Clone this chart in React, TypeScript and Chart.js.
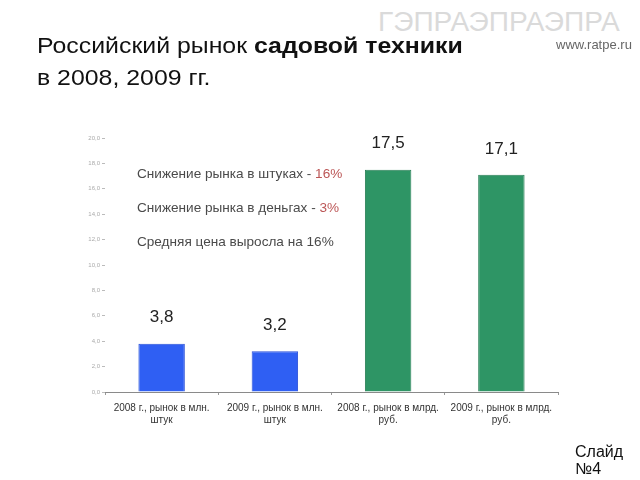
import React, { useEffect, useRef } from "react";
import { Chart, registerables } from "chart.js";

Chart.register(...registerables);

const categories: string[][] = [
  ["2008 г., рынок в млн.", "штук"],
  ["2009 г., рынок в млн.", "штук"],
  ["2008 г., рынок в млрд.", "руб."],
  ["2009 г., рынок в млрд.", "руб."],
];
const values = [3.8, 3.2, 17.5, 17.1];
const valueLabels = ["3,8", "3,2", "17,5", "17,1"];
const barColors = ["#2F5FF3", "#2F5FF3", "#2E9565", "#2E9565"];
const barBorders = ["#2A50D8", "#2A50D8", "#2A7F57", "#2A7F57"];
const yMax = 20;
const yStep = 2;

const valueLabelPlugin = {
  id: "valueLabels",
  afterDatasetsDraw(chart: any) {
    const { ctx } = chart;
    const meta = chart.getDatasetMeta(0);
    ctx.save();
    ctx.font = '17px "Liberation Sans", Arial, sans-serif';
    ctx.fillStyle = "#222";
    ctx.textAlign = "center";
    ctx.textBaseline = "middle";
    meta.data.forEach((bar: any, i: number) => {
      ctx.fillText(valueLabels[i], bar.x, bar.y - 26);
    });
    ctx.restore();
  },
};

export default function App() {
  const ref = useRef<HTMLCanvasElement>(null);
  useEffect(() => {
    if (!ref.current) return;
    const chart = new Chart(ref.current, {
      type: "bar",
      data: {
        labels: categories,
        datasets: [
          {
            data: values,
            backgroundColor: barColors,
            borderColor: barBorders,
            borderWidth: 1,
            categoryPercentage: 0.82,
            barPercentage: 0.5,
          },
        ],
      },
      options: {
        animation: false,
        responsive: false,
        maintainAspectRatio: false,
        layout: { padding: { left: 0, right: 82, top: 138, bottom: 0 } },
        plugins: { legend: { display: false }, tooltip: { enabled: false } },
        scales: {
          x: {
            afterFit: (s: any) => {
              s.height = 88;
            },
            grid: {
              drawOnChartArea: false,
              drawTicks: true,
              tickLength: 3,
              color: "#999",
              offset: true,
            },
            border: { display: true, color: "#8a8a8a", width: 1 },
            ticks: {
              color: "#333",
              font: { size: 10, family: '"Liberation Sans", Arial, sans-serif' },
              padding: 7,
              maxRotation: 0,
              autoSkip: false,
            },
          },
          y: {
            min: 0,
            max: yMax,
            afterFit: (s: any) => {
              s.width = 105;
            },
            grid: {
              drawOnChartArea: false,
              drawTicks: true,
              tickLength: 3,
              color: "#bbb",
            },
            border: { display: false },
            ticks: {
              stepSize: yStep,
              color: "#aaa",
              padding: 2,
              font: { size: 6, family: '"Liberation Sans", Arial, sans-serif' },
              callback: (v: any) => Number(v).toFixed(1).replace(".", ","),
            },
          },
        },
      },
      plugins: [valueLabelPlugin],
    });
    return () => chart.destroy();
  }, []);

  const sans = '"Liberation Sans", Arial, sans-serif';
  return (
    <div
      style={{
        position: "fixed",
        left: 0,
        top: 0,
        width: 640,
        height: 480,
        background: "#fff",
        fontFamily: sans,
        overflow: "hidden",
      }}
    >
      <div
        style={{
          position: "absolute",
          left: 378,
          top: 7,
          fontSize: 27,
          color: "#dadada",
          whiteSpace: "nowrap",
          transformOrigin: "0 0",
          transform: "scaleX(1.04)",
        }}
      >
        ГЭПРАЭПРАЭПРА
      </div>
      <canvas
        ref={ref}
        width={640}
        height={480}
        style={{ position: "absolute", left: 0, top: 0 }}
      />
      <div
        style={{
          position: "absolute",
          left: 37,
          top: 30,
          fontSize: 22,
          lineHeight: "32px",
          color: "#111",
          whiteSpace: "nowrap",
          transformOrigin: "0 0",
          transform: "scaleX(1.13)",
        }}
      >
        Российский рынок <b>садовой техники</b>
        <br />в 2008, 2009 гг.
      </div>
      <div
        style={{
          position: "absolute",
          left: 556,
          top: 37,
          fontSize: 13,
          color: "#666",
          whiteSpace: "nowrap",
        }}
      >
        www.ratpe.ru
      </div>
      <div
        style={{
          position: "absolute",
          left: 137,
          top: 165,
          fontSize: 13,
          color: "#4a4a4a",
          whiteSpace: "nowrap",
          transformOrigin: "0 0",
          transform: "scaleX(1.045)",
        }}
      >
        <div style={{ height: 34, lineHeight: "18px" }}>
          Снижение рынка в штуках - <span style={{ color: "#b55" }}>16%</span>
        </div>
        <div style={{ height: 34, lineHeight: "18px" }}>
          Снижение рынка в деньгах - <span style={{ color: "#b55" }}>3%</span>
        </div>
        <div style={{ height: 34, lineHeight: "18px" }}>Средняя цена выросла на 16%</div>
      </div>
      <div
        style={{
          position: "absolute",
          left: 575,
          top: 443,
          fontSize: 16,
          lineHeight: "17px",
          color: "#111",
        }}
      >
        Слайд
        <br />
        №4
      </div>
    </div>
  );
}
